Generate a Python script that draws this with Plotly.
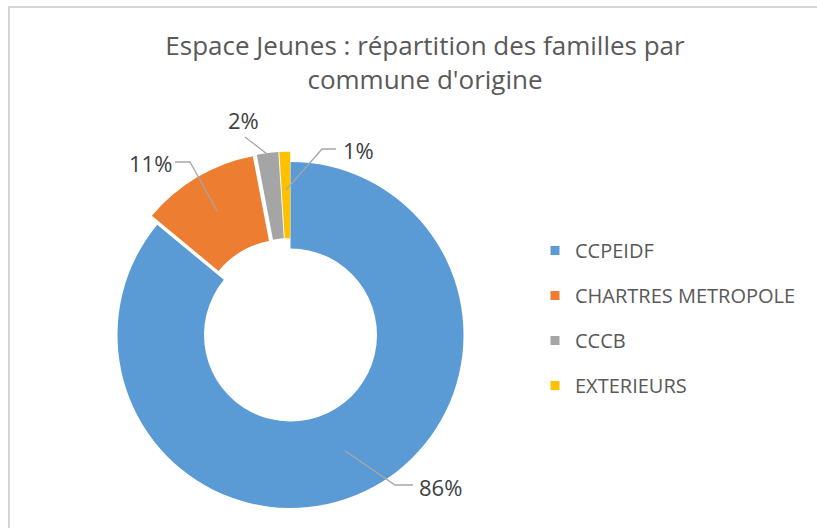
import math
import plotly.graph_objects as go

# ---- data ----
categories = ["CCPEIDF", "CHARTRES METROPOLE", "CCCB", "EXTERIEURS"]
values = [86, 11, 2, 1]
pct_labels = ["86%", "11%", "2%", "1%"]
colors = ["#5B9BD5", "#ED7D31", "#A5A5A5", "#FFC000"]
title_text = "Espace Jeunes : répartition des familles par<br>commune d'origine"

# ---- layout constants (pixels) ----
W, H = 817, 528
CX, CY = 290.5, 335.0      # donut centre
R = 173.0                   # outer radius
HOLE = 0.5
PULL = [0.0, 0.06, 0.06, 0.06]
FONT = "'Open Sans', sans-serif"
TXT = "#595959"

# label placement (pixel) and leader geometry per slice
anchor_r = [128, 144, 182, 145]
label_pos = [(440, 487), (150, 163), (243, 120), (358, 150)]
elbow_pos = [(395, 485), (190, 162), None, (322, 149)]
line_end = [(413, 485), (175, 162), (245, 137), (336, 149)]


def px(x):
    return x / W


def py(y):
    return 1 - y / H


fig = go.Figure()

rdom = R * (1 + max(PULL))
fig.add_trace(go.Pie(
    labels=categories, values=values, sort=False, direction="clockwise",
    rotation=0, hole=HOLE, pull=PULL,
    marker=dict(colors=colors, line=dict(color="white", width=0)),
    textinfo="none", hoverinfo="label+percent", showlegend=False,
    domain=dict(x=[px(CX - rdom), px(CX + rdom)], y=[py(CY + rdom), py(CY - rdom)]),
))

# legend via marker-only traces
for cat, col in zip(categories, colors):
    fig.add_trace(go.Scatter(
        x=[None], y=[None], mode="markers", name=cat, legendgroup=cat,
        marker=dict(symbol="square", size=9, color=col),
    ))

# leader lines + percentage labels computed from the slice angles
total = sum(values)
cum = 0
shapes = []
annotations = []
for i, v in enumerate(values):
    mid = (cum + v / 2) / total * 2 * math.pi
    cum += v
    ax = CX + anchor_r[i] * math.sin(mid)
    ay = CY - anchor_r[i] * math.cos(mid)
    pts = [line_end[i]]
    if elbow_pos[i] is not None:
        pts.append(elbow_pos[i])
    pts.append((ax, ay))
    path = "M " + " L ".join(f"{px(x):.5f},{py(y):.5f}" for x, y in pts)
    shapes.append(dict(type="path", xref="paper", yref="paper", path=path,
                       line=dict(color="#A6A6A6", width=1.3)))
    lx, ly = label_pos[i]
    annotations.append(dict(x=px(lx), y=py(ly), xref="paper", yref="paper",
                            text=pct_labels[i], showarrow=False,
                            font=dict(family=FONT, size=22, color="#404040"),
                            xanchor="center", yanchor="middle"))

# chart border (top and left visible)
shapes.append(dict(type="path", xref="paper", yref="paper",
                   path=f"M {px(9)},0 L {px(9)},{py(7)} L 1,{py(7)}",
                   line=dict(color="#D4D4D4", width=2)))

fig.update_layout(
    width=W, height=H,
    margin=dict(l=0, r=0, t=0, b=0, autoexpand=False),
    paper_bgcolor="white", plot_bgcolor="white",
    title=dict(text=title_text, x=425 / W, xanchor="center", y=py(55), yanchor="top",
               font=dict(family=FONT, size=26, color=TXT)),
    xaxis=dict(visible=False), yaxis=dict(visible=False),
    legend=dict(x=px(535), xanchor="left", y=py(231), yanchor="top",
                font=dict(family=FONT, size=20, color=TXT),
                tracegroupgap=16, itemclick=False),
    shapes=shapes, annotations=annotations,
    showlegend=True,
)

fig.write_html("out.html", config={"displayModeBar": False},
               post_script="document.body.style.margin='0';")
